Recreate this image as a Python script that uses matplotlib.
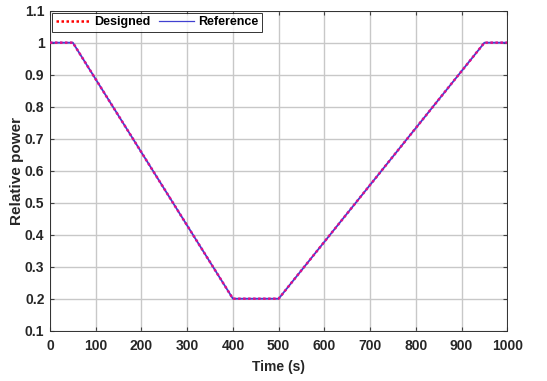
import numpy as np
import matplotlib
matplotlib.use('Agg')
import matplotlib.pyplot as plt

plt.rcParams['font.family'] = ['Liberation Sans', 'DejaVu Sans']
plt.rcParams['font.weight'] = 'bold'

# breakpoints of the power profile
time_pts = [0, 50, 400, 500, 950, 1000]
ref_power = [1.0, 1.0, 0.2, 0.2, 1.0, 1.0]
design_power = [1.0, 1.0, 0.2, 0.2, 1.0, 1.0]

x_ticks = [0, 100, 200, 300, 400, 500, 600, 700, 800, 900, 1000]
y_ticks = [0.1, 0.2, 0.3, 0.4, 0.5, 0.6, 0.7, 0.8, 0.9, 1, 1.1]
y_labels = ['0.1', '0.2', '0.3', '0.4', '0.5', '0.6', '0.7', '0.8', '0.9', '1', '1.1']

fig = plt.figure(figsize=(5.47, 3.81), dpi=100)
ax = fig.add_axes([0.0914, 0.132, 0.836, 0.840])

t = np.linspace(0, 1000, 1001)
ref = np.interp(t, time_pts, ref_power)
des = np.interp(t, time_pts, design_power)

ax.plot(t, ref, color='#4040d0', linestyle='-', linewidth=1.3, label='Reference', zorder=3)
ax.plot(t, des, color='#e0108a', linestyle=(0, (1, 1)), linewidth=1.8, label='Designed', zorder=4)

ax.set_xlim(0, 1000)
ax.set_ylim(0.1, 1.1)
ax.set_xticks(x_ticks)
ax.set_yticks(y_ticks)
ax.set_yticklabels(y_labels)
ax.tick_params(labelsize=10, direction='in', length=3, pad=4, top=True, right=True,
               color='#404040', labelcolor='#262626')
ax.tick_params(axis='x', pad=6)
ax.grid(True, color='#c8c8c8', linewidth=1.0)
for s in ax.spines.values():
    s.set_color('#303030')
    s.set_linewidth(0.7)

ax.set_xlabel('Time (s)', fontsize=10, fontweight='bold', labelpad=5, color='#262626')
ax.set_ylabel('Relative power', fontsize=11, fontweight='bold', labelpad=1, color='#262626')

# legend order: Designed first (red dotted), Reference second
h, l = ax.get_legend_handles_labels()
leg = ax.legend([h[1], h[0]], ['Designed', 'Reference'], loc='upper left', ncol=2,
                fontsize=9, frameon=True, fancybox=False, borderpad=0.3,
                handlelength=2.8, columnspacing=0.7, handletextpad=0.3, borderaxespad=0.15)
leg.get_frame().set_edgecolor('black')
leg.get_frame().set_linewidth(0.7)
leg.get_lines()[0].set_color('red')
leg.get_lines()[1].set_linewidth(0.9)

fig.savefig('out.png', dpi=100)
